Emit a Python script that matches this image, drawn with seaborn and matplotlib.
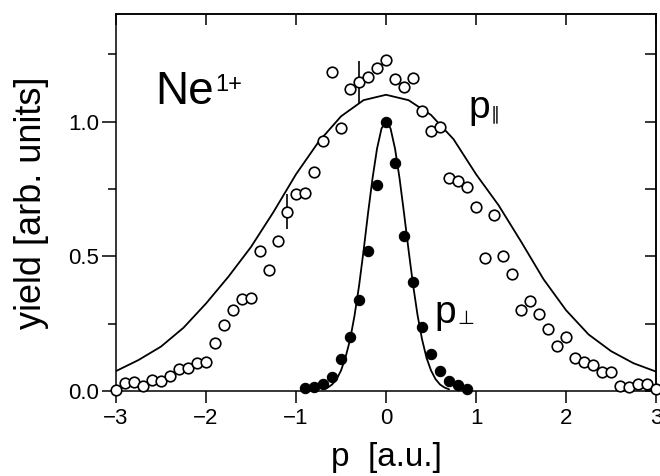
import matplotlib
matplotlib.use("Agg")
import matplotlib.pyplot as plt
from matplotlib.ticker import MultipleLocator, FixedLocator
import numpy as np
import seaborn as sns

# p parallel (open circles)
p_par_x = [-3.0, -2.9, -2.8, -2.7, -2.6, -2.5, -2.4, -2.3, -2.2, -2.1,
           -2.0, -1.9, -1.8, -1.7, -1.6, -1.5, -1.4, -1.3, -1.2, -1.1,
           -1.0, -0.9, -0.8, -0.7, -0.6, -0.5, -0.4, -0.3, -0.2, -0.1,
           0.0, 0.1, 0.2, 0.3, 0.4, 0.5, 0.6, 0.7, 0.8, 0.9,
           1.0, 1.1, 1.2, 1.3, 1.4, 1.5, 1.6, 1.7, 1.8, 1.9,
           2.0, 2.1, 2.2, 2.3, 2.4, 2.5, 2.6, 2.7, 2.8, 2.9, 3.0]
p_par_y = [0.005, 0.03, 0.033, 0.02, 0.042, 0.036, 0.054, 0.081, 0.086, 0.104,
           0.108, 0.18, 0.245, 0.30, 0.34, 0.345, 0.52, 0.45, 0.557, 0.665,
           0.73, 0.735, 0.815, 0.927, 1.185, 0.975, 1.12, 1.147, 1.165, 1.20,
           1.23, 1.158, 1.13, 1.162, 1.038, 0.965, 0.98, 0.79, 0.778, 0.757,
           0.684, 0.495, 0.655, 0.50, 0.435, 0.30, 0.333, 0.286, 0.23, 0.167,
           0.20, 0.123, 0.108, 0.095, 0.07, 0.07, 0.02, 0.014, 0.026, 0.026, 0.006]

# error bars on two of the open circles
err_x = [-1.1, -0.3]
err_y = [0.665, 1.147]
err_dy = [0.065, 0.08]

# p perpendicular (filled circles)
p_perp_x = [-0.9, -0.8, -0.7, -0.6, -0.5, -0.4, -0.3, -0.2, -0.1, 0.0,
            0.1, 0.2, 0.3, 0.4, 0.5, 0.6, 0.7, 0.8, 0.9]
p_perp_y = [0.01, 0.016, 0.025, 0.053, 0.12, 0.20, 0.338, 0.52, 0.765, 1.0,
            0.846, 0.574, 0.403, 0.238, 0.138, 0.074, 0.037, 0.022, 0.007]

# fitted curves
fit_par_x = [-3.0, -2.75, -2.5, -2.25, -2.0, -1.75, -1.5, -1.25, -1.0, -0.75,
             -0.5, -0.25, 0.0, 0.25, 0.5, 0.75, 1.0, 1.25, 1.5, 1.75,
             2.0, 2.25, 2.5, 2.75, 3.0]
fit_par_y = [0.074, 0.115, 0.165, 0.235, 0.325, 0.425, 0.535, 0.665, 0.805, 0.925,
             1.02, 1.08, 1.10, 1.08, 1.025, 0.935, 0.805, 0.69, 0.555, 0.415,
             0.30, 0.21, 0.148, 0.103, 0.072]

fit_perp_x = [-0.7, -0.65, -0.6, -0.55, -0.5, -0.45, -0.4, -0.35, -0.3, -0.25,
              -0.2, -0.15, -0.1, -0.05, 0.0, 0.05, 0.1, 0.15, 0.2, 0.25,
              0.3, 0.35, 0.4, 0.45, 0.5, 0.55, 0.6, 0.65, 0.7]
fit_perp_y = [0.006, 0.012, 0.024, 0.043, 0.076, 0.125, 0.19, 0.28, 0.39, 0.52,
              0.66, 0.79, 0.90, 0.975, 1.0, 0.975, 0.90, 0.79, 0.66, 0.524,
              0.395, 0.282, 0.192, 0.123, 0.076, 0.044, 0.024, 0.0127, 0.0063]

sns.set_style("ticks", rc={'text.color': 'black', 'axes.labelcolor': 'black',
                           'xtick.color': 'black', 'ytick.color': 'black',
                           'axes.edgecolor': 'black'})
plt.rcParams['font.family'] = ['Liberation Sans', 'DejaVu Sans']
plt.rcParams['axes.unicode_minus'] = True

fig = plt.figure(figsize=(6.6, 4.76), dpi=100)
ax = fig.add_axes([0.1758, 0.1786, 0.8182, 0.7920])

sns.lineplot(x=fit_par_x, y=fit_par_y, color='black', lw=1.3, ax=ax, zorder=2)
sns.lineplot(x=fit_perp_x, y=fit_perp_y, color='black', lw=1.3, ax=ax, zorder=2)

ax.vlines(err_x, np.array(err_y) - np.array(err_dy), np.array(err_y) + np.array(err_dy),
          color='black', lw=1.2, zorder=3)

sns.scatterplot(x=p_par_x, y=p_par_y, marker='o', s=58, facecolor='white',
                edgecolor='black', linewidth=1.2, ax=ax, zorder=4, clip_on=False)
sns.scatterplot(x=p_perp_x, y=p_perp_y, marker='o', s=55, color='black',
                edgecolor='black', linewidth=0.8, ax=ax, zorder=4, clip_on=False)

ax.set_xlim(-3, 3)
ax.set_ylim(0, 1.40)

for s in ax.spines.values():
    s.set_linewidth(1.1)
    s.set_visible(True)

ax.xaxis.set_major_locator(MultipleLocator(1))
ax.yaxis.set_major_locator(FixedLocator([0.0, 0.5, 1.0]))
ax.yaxis.set_minor_locator(FixedLocator([0.25, 0.75, 1.25]))
ax.set_yticklabels(['0.0', '0.5', '1.0'])
ax.tick_params(axis='x', which='major', direction='out', length=8.5, width=1.1,
               labelsize=16, pad=4, top=False)
ax.tick_params(axis='y', which='major', direction='out', length=10, width=1.1,
               labelsize=16, pad=2, right=False)
ax.tick_params(axis='y', which='minor', direction='out', length=5.5, width=1.1, right=False)

# inward ticks on the top and right sides
top = ax.secondary_xaxis('top')
top.xaxis.set_major_locator(MultipleLocator(1))
top.tick_params(direction='in', length=8, width=1.1, labeltop=False)
top.spines['top'].set_linewidth(1.1)
right = ax.secondary_yaxis('right')
right.yaxis.set_major_locator(MultipleLocator(0.25))
right.tick_params(direction='in', length=8, width=1.1, labelright=False)
right.spines['right'].set_linewidth(1.1)

ax.set_xlabel('p  [a.u.]', fontsize=24, labelpad=9)
ax.set_ylabel('yield [arb. units]', fontsize=26, labelpad=14)

ne = ax.text(-2.567, 1.067, 'Ne', fontsize=33, ha='left', va='baseline')
ax.annotate('1+', xy=(1, 1), xycoords=ne, xytext=(1, -3), textcoords='offset points',
            fontsize=17, ha='left', va='top')
p1 = ax.text(0.911, 1.015, 'p', fontsize=28, ha='left', va='baseline')
ax.annotate('\u2225', xy=(1, 0), xycoords=p1, xytext=(1, 2), textcoords='offset points',
            fontsize=13, ha='left', va='bottom', family=['DejaVu Sans'])
p2 = ax.text(0.533, 0.253, 'p', fontsize=28, ha='left', va='baseline')
ax.annotate('\u22a5', xy=(1, 0), xycoords=p2, xytext=(1, 2), textcoords='offset points',
            fontsize=14, ha='left', va='bottom', family=['DejaVu Sans'])

fig.savefig('out.png', dpi=100)
